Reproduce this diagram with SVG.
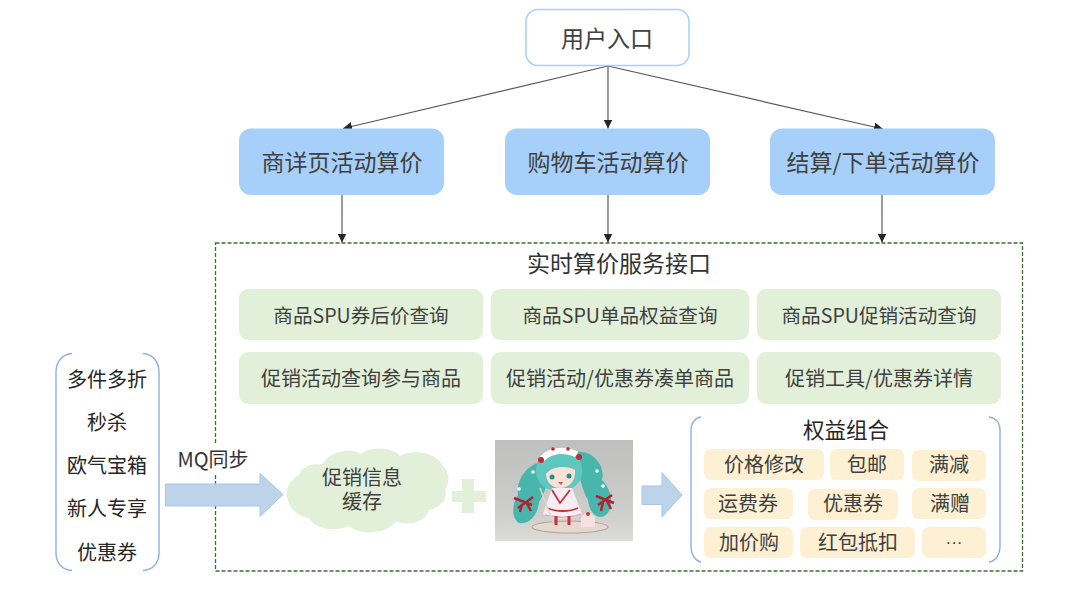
<svg xmlns="http://www.w3.org/2000/svg" width="1080" height="589" viewBox="0 0 1080 589">
<style>
text{font-family:"Noto Sans CJK SC","Noto Sans",sans-serif;fill:#404040;text-anchor:middle}
.t23{font-size:23px}.t20{font-size:20px}
.blue{fill:#a6d0f9}.green{fill:#e2f0d9}.tag{fill:#fdf0d3}
.conn{stroke:#595959;stroke-width:1.2;fill:none;marker-end:url(#ah)}
.br{fill:none;stroke:#8fb0e0;stroke-width:1.4}
.ba{fill:#bcd3ea;stroke:#a9c6e6;stroke-width:1}
</style>
<defs>
<marker id="ah" markerUnits="userSpaceOnUse" markerWidth="10" markerHeight="9" refX="9" refY="4.500" orient="auto"><path d="M0 0L9 4.500L0 9Z" fill="#262626"/></marker>
<filter id="soft" x="0" y="0" width="1" height="1"><feGaussianBlur stdDeviation="0.700"/></filter>
<linearGradient id="bg" x1="0" y1="0" x2="0" y2="1"><stop offset="0" stop-color="#bfbfbd"/><stop offset="0.7" stop-color="#cdcdcb"/><stop offset="1" stop-color="#dcdcda"/></linearGradient>
</defs>
<rect width="1080" height="589" fill="#fff"/>
<g id="service-frame"><rect x="215.500" y="243" width="807" height="328" fill="none" stroke="#3f6b35" stroke-width="1.300" stroke-dasharray="4 2"/>
<text class="t23" x="619" y="272" style="fill:#333">实时算价服务接口</text></g>
<g id="connectors">
<path class="conn" d="M608 66L343 128.500"/><path class="conn" d="M608 66V128.500"/><path class="conn" d="M608 66L883 129"/>
<path class="conn" d="M342 195V242.500"/><path class="conn" d="M608 195V242.500"/><path class="conn" d="M882 195V242.500"/>
</g>
<g id="entry"><rect x="526" y="9.500" width="163" height="56" rx="12" fill="#fff" stroke="#a6d0f9" stroke-width="1.500"/><text class="t23" x="607" y="47">用户入口</text></g>
<g id="detail"><rect class="blue" x="239" y="128.500" width="205" height="66.500" rx="12"/><text class="t23" x="342" y="171">商详页活动算价</text></g>
<g id="cart"><rect class="blue" x="505" y="128.500" width="205" height="66.500" rx="12"/><text class="t23" x="608" y="171">购物车活动算价</text></g>
<g id="checkout"><rect class="blue" x="770" y="128.500" width="225" height="66.500" rx="12"/><text class="t23" x="883" y="171">结算/下单活动算价</text></g>
<g id="q1"><rect class="green" x="239" y="289" width="244" height="51" rx="9"/><text class="t20" x="361" y="323" style="font-size:19.600px">商品SPU券后价查询</text></g>
<g id="q2"><rect class="green" x="491" y="289" width="258" height="51" rx="9"/><text class="t20" x="620" y="323" style="font-size:19.600px">商品SPU单品权益查询</text></g>
<g id="q3"><rect class="green" x="757" y="289" width="244" height="51" rx="9"/><text class="t20" x="879" y="323" style="font-size:19.600px">商品SPU促销活动查询</text></g>
<g id="q4"><rect class="green" x="239" y="352" width="244" height="52" rx="9"/><text class="t20" x="361" y="386">促销活动查询参与商品</text></g>
<g id="q5"><rect class="green" x="491" y="352" width="258" height="52" rx="9"/><text class="t20" x="620" y="386">促销活动/优惠券凑单商品</text></g>
<g id="q6"><rect class="green" x="757" y="352" width="244" height="52" rx="9"/><text class="t20" x="879" y="386">促销工具/优惠券详情</text></g>
<g id="sources">
<path class="br" d="M72 353.500C62 354 56 362 56 372V553C56 563 62 570 72 570.500M143 353.500C153 354 159 362 159 372V553C159 563 153 570 143 570.500"/>
<text class="t20" x="107" y="386.500" style="fill:#262626">多件多折</text>
<text class="t20" x="107" y="430" style="fill:#262626">秒杀</text>
<text class="t20" x="107" y="473" style="fill:#262626">欧气宝箱</text>
<text class="t20" x="107" y="516" style="fill:#262626">新人专享</text>
<text class="t20" x="107" y="560" style="fill:#262626">优惠券</text>
</g>
<g id="mq"><rect x="176" y="445" width="74" height="28" fill="#fff"/><text x="213" y="467" font-size="20" style="fill:#333">MQ同步</text>
<path class="ba" d="M165.500 484H260V473.500L283 494.500L260 516.500V506H165.500Z"/></g>
<g id="cache"><path fill="#e2f0d9" d="M299 475C303 465 315 463 322 465C328 452 350 447 361 454C371 446 392 447 400 456C412 449 436 452 442 465C450 472 450 483 445 489C448 499 441 508 429 510C426 522 407 527 396 521C388 534 360 536 349 526C336 532 315 530 309 518C297 516 290 509 288 500C284 492 289 480 299 475Z"/>
<text x="362" y="485" font-size="20">促销信息<tspan x="362" dy="24">缓存</tspan></text></g>
<g id="plus"><path fill="#e2f0d9" d="M462 479H474V491H486V502H474V513H462V502H452V491H462Z"/></g>
<g id="figure" filter="url(#soft)">
<rect x="495" y="440" width="138" height="101" fill="url(#bg)"/>
<ellipse cx="570" cy="527" rx="38" ry="6" fill="#e4d9cf" stroke="#b5a488" stroke-width="1.200"/>
<path fill="#4ab6ae" d="M540 462C526 466 516 480 518 495C512 503 511 518 519 523C530 525 538 514 539 502C546 492 549 478 547 466Z"/>
<path fill="#4ab6ae" d="M578 452C592 450 606 466 602 480C612 490 614 506 607 514C598 522 589 512 588 500C582 490 576 468 578 452Z"/>
<path fill="#5fc6c0" d="M536 472C536 456 548 450 560 450C574 450 584 460 582 474C580 486 570 491 559 491C546 491 537 484 536 472Z"/>
<path fill="#fff" d="M540 457C548 447 566 445 578 452L575 457C564 452 552 453 544 461Z"/>
<g fill="#bf2b38"><circle cx="541" cy="460" r="3"/><circle cx="579" cy="457" r="3"/><circle cx="553" cy="449" r="1.800"/><circle cx="568" cy="449" r="1.800"/></g>
<path fill="#f7e2d6" d="M546 474C551 466 567 465 575 470C576 481 569 488 560 488C552 488 546 482 546 474Z"/>
<circle cx="552" cy="477" r="2.500" fill="#2b8f8c"/><circle cx="569" cy="476" r="2.500" fill="#2b8f8c"/>
<path fill="#d8525a" d="M558 482H563L561 485Z"/>
<path fill="#f6eef0" d="M552 488H572L582 514C572 520 552 520 543 514Z"/>
<path fill="none" stroke="#c8313f" stroke-width="1.800" d="M547 508C556 512 570 512 578 508M552 490L560 503L570 490"/>
<path fill="none" stroke="#e7a9b2" stroke-width="1.500" d="M545 515C555 518 572 518 581 514"/>
<path fill="none" stroke="#c8313f" stroke-width="3" d="M556 516V525M569 516V525"/>
<path fill="none" stroke="#e0d9c0" stroke-width="1.500" d="M540 488L553 522"/>
<path fill="none" stroke="#b2202f" stroke-width="2.500" d="M514 498L532 505M533 497L518 508M522 504L520 512M527 504L531 511M596 496L614 503M612 495L598 505M603 502L601 511M607 501L611 509"/>
<g fill="#fff"><circle cx="533" cy="472" r="1.800"/><circle cx="519" cy="489" r="1.800"/><circle cx="597" cy="471" r="1.800"/><circle cx="603" cy="486" r="1.800"/></g>
<path fill="#f6e1e1" d="M581 518C583 512 593 511 595 518V527H581Z"/><circle cx="588" cy="514" r="2" fill="#c8313f"/>
</g>
<g id="flow"><path class="ba" d="M642 486H662V472.500L682 495L662 517V504.500H642Z"/></g>
<g id="benefits">
<path class="br" d="M701 417C695 418 691 423 691 430V547C691 554 695 561 701 562M989 417C996 418 1000 423 1000 430V547C1000 554 996 561 989 562"/>
<text x="846" y="438" font-size="21.500" style="fill:#262626">权益组合</text>
<g id="b1"><rect class="tag" x="704" y="449" width="120" height="31" rx="7"/><text class="t20" x="764" y="472">价格修改</text></g>
<g id="b2"><rect class="tag" x="830" y="449" width="74" height="31" rx="7"/><text class="t20" x="867" y="472">包邮</text></g>
<g id="b3"><rect class="tag" x="912" y="450" width="74" height="31" rx="7"/><text class="t20" x="949" y="472">满减</text></g>
<g id="b4"><rect class="tag" x="704" y="488" width="89" height="31" rx="7"/><text class="t20" x="748" y="511">运费券</text></g>
<g id="b5"><rect class="tag" x="808" y="489" width="90" height="31" rx="7"/><text class="t20" x="853" y="511">优惠券</text></g>
<g id="b6"><rect class="tag" x="912" y="488" width="74" height="31" rx="7"/><text class="t20" x="950" y="511">满赠</text></g>
<g id="b7"><rect class="tag" x="704" y="527" width="89" height="31" rx="7"/><text class="t20" x="749" y="550">加价购</text></g>
<g id="b8"><rect class="tag" x="800" y="527" width="115" height="31" rx="7"/><text class="t20" x="858" y="550">红包抵扣</text></g>
<g id="b9"><rect class="tag" x="922" y="527" width="64" height="31" rx="7"/><text x="954" y="548" style="font-size:17px;font-family:'Liberation Sans',sans-serif">···</text></g>
</g>
</svg>
